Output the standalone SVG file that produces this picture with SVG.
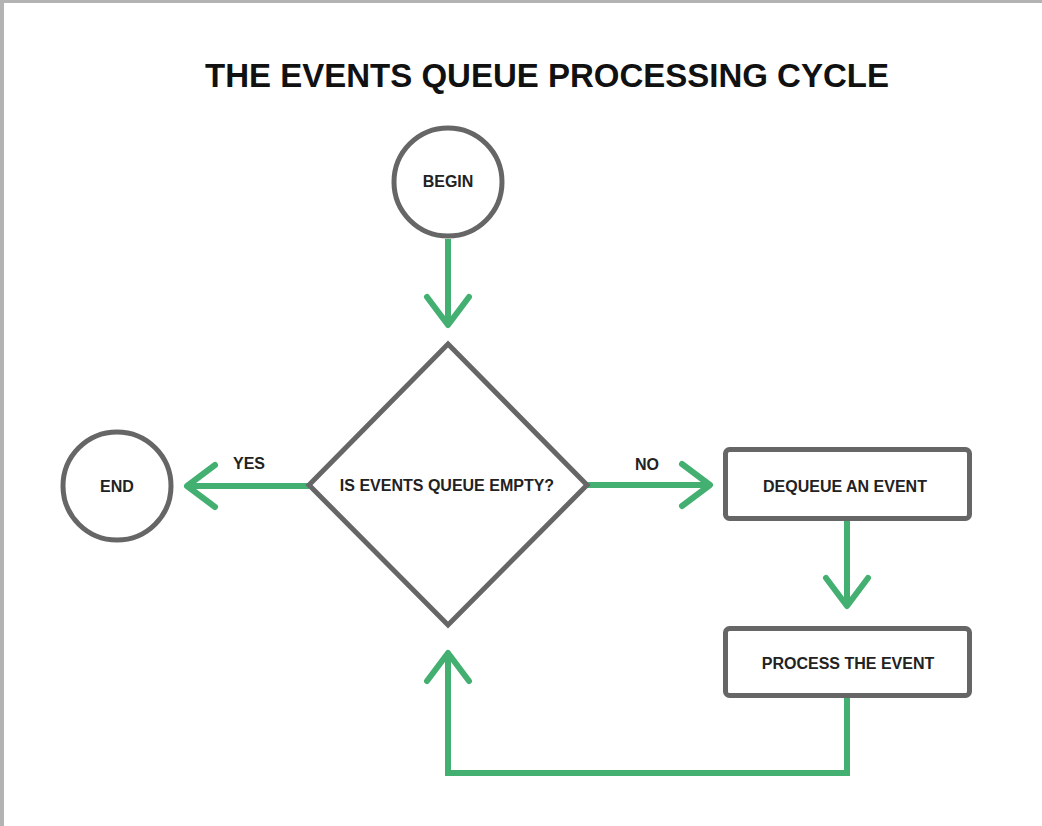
<svg xmlns="http://www.w3.org/2000/svg" width="1042" height="826" viewBox="0 0 1042 826">
  <style>
    .node { fill: #ffffff; stroke: #666666; stroke-width: 5; }
    .lbl { font-family: "Liberation Sans", Arial, sans-serif; font-weight: bold; font-size: 16px; fill: #222222; text-anchor: middle; }
    .title { font-family: "Liberation Sans", Arial, sans-serif; font-weight: bold; font-size: 33px; fill: #111111; text-anchor: middle; }
    .edge { fill: none; stroke: #43b072; stroke-width: 6; stroke-linejoin: miter; marker-end: url(#chev); }
  </style>
  <defs>
    <marker id="chev" markerUnits="userSpaceOnUse" viewBox="-34 -27 40 54" markerWidth="40" markerHeight="54" refX="0" refY="0" orient="auto" overflow="visible">
      <path d="M-28,-21 L0,0 L-28,21" fill="none" stroke="#43b072" stroke-width="6" stroke-linecap="round" stroke-linejoin="round"/>
    </marker>
  </defs>
  <rect x="0" y="0" width="1042" height="826" fill="#ffffff"/>
  <rect x="0" y="0" width="1042" height="3" fill="#b3b3b3"/>
  <rect x="0" y="0" width="4" height="826" fill="#b3b3b3"/>

  <text class="title" x="547" y="87">THE EVENTS QUEUE PROCESSING CYCLE</text>

  <g id="connectors">
    <path class="edge" d="M448,239 V325"/>
    <path class="edge" d="M309,486 H187"/>
    <path class="edge" d="M587,485 H710"/>
    <path class="edge" d="M847,521 V606"/>
    <path class="edge" d="M847,698 V773 H448 V653"/>
    <text class="lbl" x="249" y="469">YES</text>
    <text class="lbl" x="647" y="470">NO</text>
  </g>

  <g id="begin">
    <circle class="node" cx="448" cy="182" r="54"/>
    <text class="lbl" x="448" y="187">BEGIN</text>
  </g>
  <g id="end">
    <circle class="node" cx="117" cy="486" r="54"/>
    <text class="lbl" x="117" y="492">END</text>
  </g>
  <g id="decision">
    <polygon class="node" points="448,344 587,485 448,625 309,485"/>
    <text class="lbl" x="447" y="491">IS EVENTS QUEUE EMPTY?</text>
  </g>
  <g id="dequeue">
    <rect class="node" x="725.5" y="449.5" width="244" height="69" rx="4"/>
    <text class="lbl" x="845" y="492">DEQUEUE AN EVENT</text>
  </g>
  <g id="process">
    <rect class="node" x="725.5" y="628.5" width="244" height="67" rx="4"/>
    <text class="lbl" x="848" y="669">PROCESS THE EVENT</text>
  </g>
</svg>
